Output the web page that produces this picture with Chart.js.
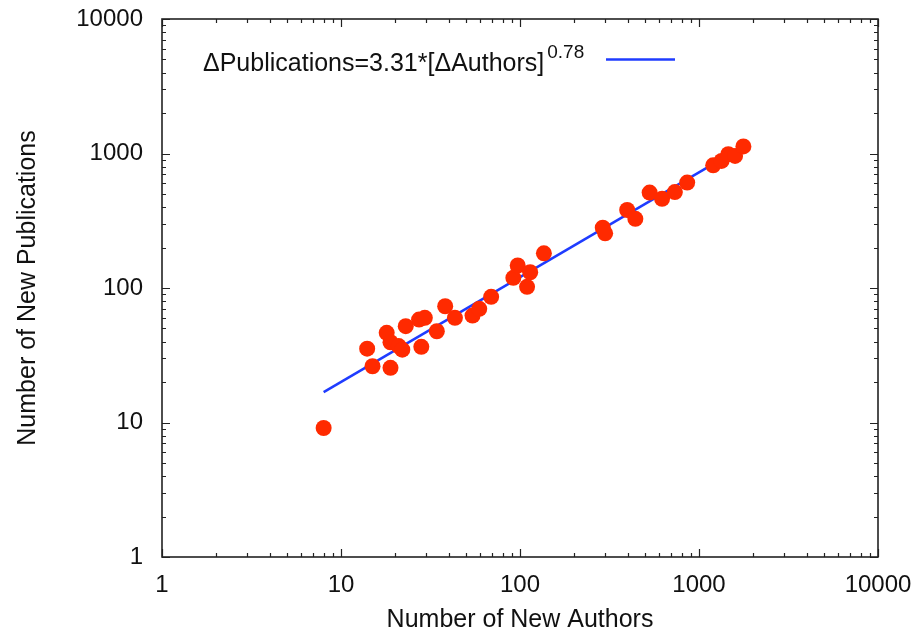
<!DOCTYPE html>
<html>
<head>
<meta charset="utf-8">
<script src="https://cdn.jsdelivr.net/npm/chart.js@4"></script>
<style>
  html, body { margin: 0; padding: 0; background: #ffffff; }
  #wrap { width: 919px; height: 637px; }
</style>
</head>
<body>
<div id="wrap"><canvas id="c" width="919" height="637"></canvas></div>
<script>
// ---- data ----
const newAuthors = [8, 14, 15, 18, 18.9, 18.9, 21, 22, 23, 27.3, 28.1, 29.4, 34.3, 38.2, 43.3, 54.3, 59.2, 69,
                    91.8, 97.1, 109.5, 114, 136, 290, 299, 397, 441, 530, 622, 733, 859, 1200, 1337, 1458, 1590, 1770];
const newPublications = [9.1, 35.4, 26.2, 46.4, 39.5, 25.5, 37, 34.8, 52, 58.2, 36.5, 60, 47.7, 73.2, 60, 62.4, 70, 86,
                    119, 147, 102, 131, 181, 281, 255, 380, 327, 512, 461, 517, 608, 817, 880, 987, 959, 1128];
// fitted power-law line endpoints (as drawn in the reference)
const fitAuthors = [8, 1770];
const fitPublications = [16.8, 1130];
// axis tick labels
const xTickLabels = ['1', '10', '100', '1000', '10000'];
const yTickLabels = ['1', '10', '100', '1000', '10000'];
const xTitle = 'Number of New Authors';
const yTitle = 'Number of New Publications';
const legendMain = 'ΔPublications=3.31*[ΔAuthors]';
const legendSup = '0.78';

const FONT = "'Liberation Sans', Arial, Helvetica, sans-serif";
Chart.defaults.font.family = FONT;
Chart.defaults.color = '#111';

const scatterData = newAuthors.map((x, i) => ({ x: x, y: newPublications[i] }));
const fitData = fitAuthors.map((x, i) => ({ x: x, y: fitPublications[i] }));

const decadeTicks = labels => labels.map(s => ({ value: Number(s) }));

const framePlugin = {
  id: 'frame',
  afterDraw(chart) {
    const ctx = chart.ctx;
    const a = chart.chartArea;
    const xs = chart.scales.x, ys = chart.scales.y;
    ctx.save();
    ctx.strokeStyle = '#222';
    ctx.lineWidth = 1.6;
    ctx.strokeRect(a.left, a.top, a.right - a.left, a.bottom - a.top);
    ctx.lineWidth = 1.2;
    ctx.beginPath();
    const major = 8, minor = 4;
    for (let d = 0; d < xTickLabels.length; d++) {
      const base = Number(xTickLabels[d]);
      for (let m = 1; m <= 9; m++) {
        if (d === xTickLabels.length - 1 && m > 1) break;
        const px = Math.round(xs.getPixelForValue(base * m)) + 0.5;
        const len = m === 1 ? major : minor;
        ctx.moveTo(px, a.bottom); ctx.lineTo(px, a.bottom - len);
        ctx.moveTo(px, a.top); ctx.lineTo(px, a.top + len);
      }
    }
    for (let d = 0; d < yTickLabels.length; d++) {
      const base = Number(yTickLabels[d]);
      for (let m = 1; m <= 9; m++) {
        if (d === yTickLabels.length - 1 && m > 1) break;
        const py = Math.round(ys.getPixelForValue(base * m)) + 0.5;
        const len = m === 1 ? major : minor;
        ctx.moveTo(a.left, py); ctx.lineTo(a.left + len, py);
        ctx.moveTo(a.right, py); ctx.lineTo(a.right - len, py);
      }
    }
    ctx.stroke();

    // key (text then line sample)
    ctx.fillStyle = '#111';
    ctx.textBaseline = 'alphabetic';
    ctx.textAlign = 'left';
    ctx.font = '25px ' + FONT;
    const tx = 203, ty = 71;
    ctx.fillText(legendMain, tx, ty);
    const w = ctx.measureText(legendMain).width;
    ctx.font = '19px ' + FONT;
    ctx.fillText(legendSup, tx + w + 3, 58);
    ctx.strokeStyle = '#1f3cff';
    ctx.lineWidth = 2.5;
    ctx.beginPath();
    ctx.moveTo(606, 59.5); ctx.lineTo(675, 59.5);
    ctx.stroke();
    ctx.restore();
  }
};

new Chart(document.getElementById('c'), {
  type: 'scatter',
  data: {
    datasets: [
      {
        label: 'data',
        data: scatterData,
        backgroundColor: '#ff2a00',
        borderWidth: 0,
        pointRadius: 8,
        pointHoverRadius: 8
      },
      {
        label: legendMain + '^' + legendSup,
        data: fitData,
        showLine: true,
        borderColor: '#1f3cff',
        borderWidth: 2.5,
        pointRadius: 0,
        fill: false
      }
    ]
  },
  options: {
    responsive: false,
    animation: false,
    devicePixelRatio: 1,
    layout: { autoPadding: false, padding: { top: 19, right: 41, left: 0, bottom: 0 } },
    plugins: { legend: { display: false }, tooltip: { enabled: false } },
    scales: {
      x: {
        type: 'logarithmic',
        min: 1, max: 10000,
        afterBuildTicks: s => { s.ticks = decadeTicks(xTickLabels); },
        afterFit: s => { s.height = 80; s.paddingLeft = 0; s.paddingRight = 0; s.paddingTop = 0; s.paddingBottom = 0; },
        grid: { display: false, drawTicks: false },
        border: { display: false },
        ticks: {
          padding: 14,
          maxRotation: 0,
          autoSkip: false,
          font: { size: 24 },
          color: '#111',
          callback: (v) => xTickLabels[xTickLabels.indexOf(String(v))] || ''
        },
        title: { display: true, text: xTitle, font: { size: 25 }, color: '#111', padding: { top: 0, bottom: 2 } }
      },
      y: {
        type: 'logarithmic',
        min: 1, max: 10000,
        afterBuildTicks: s => { s.ticks = decadeTicks(yTickLabels); },
        afterFit: s => { s.width = 162; s.paddingLeft = 0; s.paddingRight = 0; s.paddingTop = 0; s.paddingBottom = 0; },
        grid: { display: false, drawTicks: false },
        border: { display: false },
        ticks: {
          padding: 19,
          autoSkip: false,
          font: { size: 24 },
          color: '#111',
          callback: (v) => yTickLabels[yTickLabels.indexOf(String(v))] || ''
        },
        title: { display: true, text: yTitle, font: { size: 25 }, color: '#111', padding: { top: 13, bottom: 0 } }
      }
    }
  },
  plugins: [framePlugin]
});
</script>
</body>
</html>
